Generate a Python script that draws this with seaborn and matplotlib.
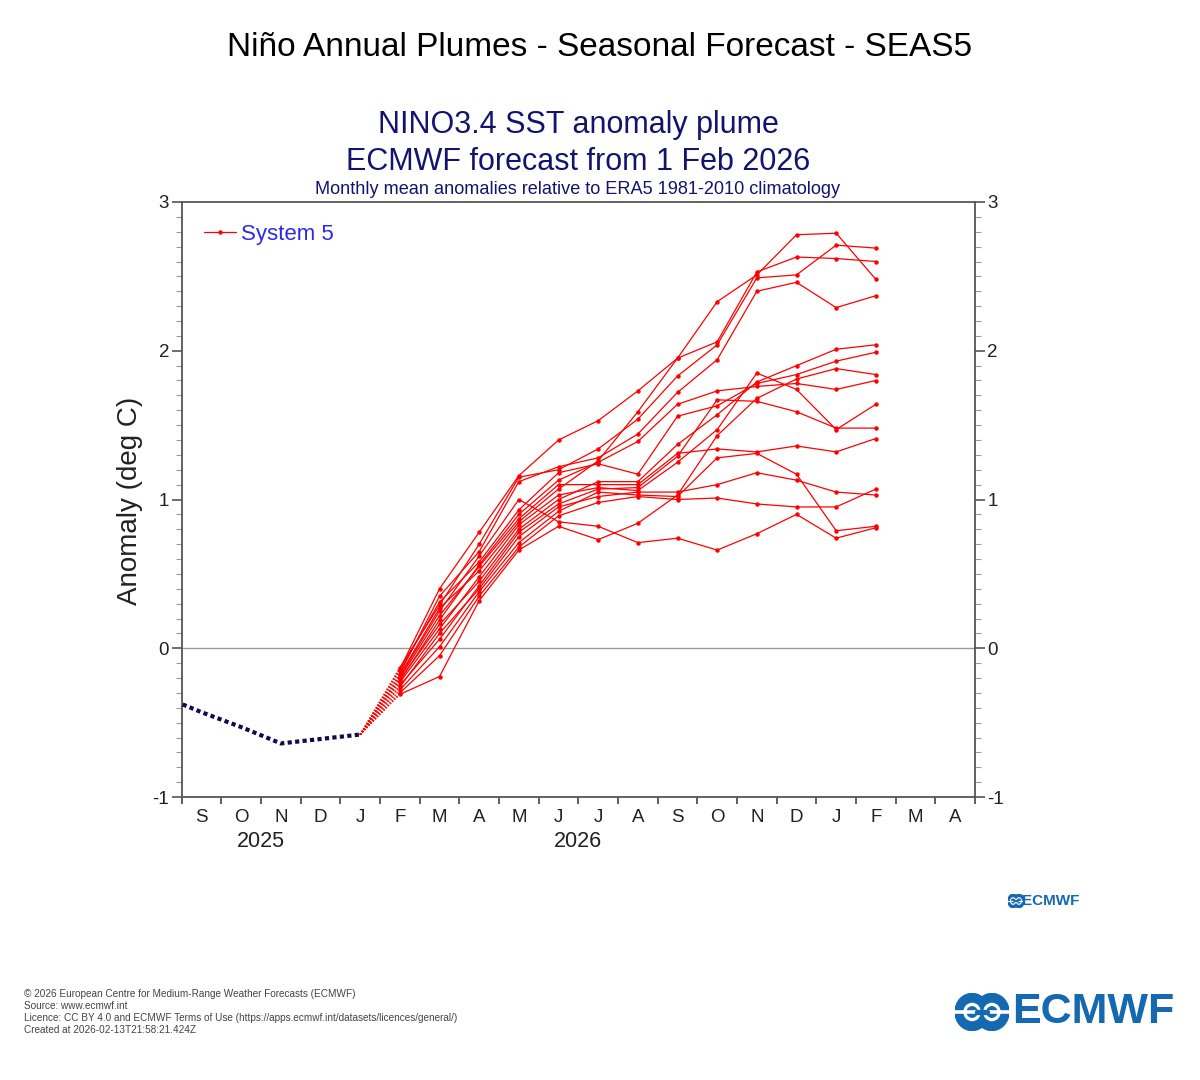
import pandas as pd
import matplotlib
matplotlib.use("Agg")
import matplotlib.pyplot as plt
from matplotlib.lines import Line2D
from matplotlib.patches import Ellipse
from matplotlib.ticker import FixedLocator, MultipleLocator
import seaborn as sns

# month axis: Sep 2025 .. Apr 2027
axis_start = "2025-09"
month_letters = ["S", "O", "N", "D", "J", "F", "M", "A", "M", "J",
                 "J", "A", "S", "O", "N", "D", "J", "F", "M", "A"]
year_labels = ["2025", "2026"]
year_label_months = ["2025-11", "2026-07"]

# observed Nino3.4 anomalies (ERA5)
obs_months = ["2025-08", "2025-09", "2025-10", "2025-11", "2025-12", "2026-01"]
obs_values = [-0.32, -0.43, -0.53, -0.64, -0.61, -0.58]

# SEAS5 ensemble members, Feb 2026 .. Feb 2027
fc_months = ["2026-02", "2026-03", "2026-04", "2026-05", "2026-06", "2026-07", "2026-08",
             "2026-09", "2026-10", "2026-11", "2026-12", "2027-01", "2027-02"]
m01 = [-0.18, 0.27, 0.52, 0.85, 1.07, 1.26, 1.59, 1.95, 2.33, 2.51, 2.78, 2.79, 2.48]
m02 = [-0.14, 0.40, 0.78, 1.16, 1.40, 1.53, 1.73, 1.95, 2.06, 2.53, 2.63, 2.62, 2.60]
m03 = [-0.13, 0.29, 0.70, 1.15, 1.20, 1.34, 1.54, 1.83, 2.04, 2.49, 2.51, 2.71, 2.69]
m04 = [-0.17, 0.35, 0.65, 1.12, 1.22, 1.28, 1.44, 1.72, 1.94, 2.40, 2.46, 2.29, 2.37]
m05 = [-0.21, 0.16, 0.45, 0.80, 1.00, 1.12, 1.12, 1.37, 1.57, 1.79, 1.90, 2.01, 2.04]
m06 = [-0.15, 0.31, 0.58, 0.93, 1.18, 1.24, 1.17, 1.56, 1.63, 1.78, 1.84, 1.93, 1.99]
m07 = [-0.31, -0.19, 0.32, 0.66, 0.82, 0.73, 0.84, 1.03, 1.43, 1.68, 1.81, 1.88, 1.84]
m08 = [-0.22, 0.19, 0.56, 0.90, 1.13, 1.25, 1.39, 1.64, 1.73, 1.76, 1.78, 1.74, 1.80]
m09 = [-0.23, 0.13, 0.48, 0.83, 1.03, 1.08, 1.06, 1.25, 1.47, 1.85, 1.74, 1.47, 1.64]
m10 = [-0.25, 0.06, 0.42, 0.78, 0.97, 1.07, 1.08, 1.29, 1.67, 1.66, 1.59, 1.48, 1.48]
m11 = [-0.20, 0.22, 0.55, 0.87, 1.10, 1.10, 1.10, 1.31, 1.34, 1.32, 1.36, 1.32, 1.41]
m12 = [-0.28, 0.01, 0.38, 0.71, 0.92, 1.05, 1.03, 1.02, 1.28, 1.31, 1.17, 0.79, 0.82]
m13 = [-0.26, 0.10, 0.40, 0.75, 0.95, 1.02, 1.05, 1.05, 1.10, 1.18, 1.13, 1.05, 1.03]
m14 = [-0.30, -0.05, 0.35, 0.68, 0.89, 0.98, 1.02, 1.00, 1.01, 0.97, 0.95, 0.95, 1.07]
m15 = [-0.19, 0.25, 0.62, 1.00, 0.85, 0.82, 0.71, 0.74, 0.66, 0.77, 0.90, 0.74, 0.81]
members = [m01, m02, m03, m04, m05, m06, m07, m08, m09, m10, m11, m12, m13, m14, m15]

footer = ["\u00a9 2026 European Centre for Medium-Range Weather Forecasts (ECMWF)",
          "Source: www.ecmwf.int",
          "Licence: CC BY 4.0 and ECMWF Terms of Use (https://apps.ecmwf.int/datasets/licences/general/)",
          "Created at 2026-02-13T21:58:21.424Z"]


def month_pos(m, mid=True):
    # months since start of axis, placed mid-month
    p = pd.Period(m, "M") - pd.Period(axis_start, "M")
    return p.n + (0.5 if mid else 0.0)


obs_x = [month_pos(m) for m in obs_months]
fc_x = [month_pos(m) for m in fc_months]

rows = []
for k, vals in enumerate(members):
    for x, v in zip(fc_x, vals):
        rows.append({"x": x, "anomaly": v, "member": k})
df = pd.DataFrame(rows)

sns.set_style("ticks")
plt.rcParams["font.family"] = ["Liberation Sans", "DejaVu Sans"]

W, H = 1200, 1080
fig = plt.figure(figsize=(W / 100, H / 100), dpi=100)
ax = fig.add_axes([181.7 / W, 1 - 797 / H, (975 - 181.7) / W, (797 - 202) / H])

navy = "#14146e"
ax.axhline(0, color="#9a9a9a", lw=1.0, zorder=1)

# observations
ax.plot(obs_x, obs_values, color="#0c0c4e", lw=3.0, linestyle=(0, (1, 0.8)), zorder=3)

# dotted links from last observation to first forecast month
for vals in members:
    ax.plot([obs_x[-1], fc_x[0]], [obs_values[-1], vals[0]], color="red",
            lw=1.0, linestyle=(0, (1, 1.2)), zorder=2)

sns.lineplot(data=df, x="x", y="anomaly", units="member", estimator=None,
             color="red", lw=0.9, marker="o", markersize=3.2, markeredgewidth=0,
             legend=False, ax=ax, zorder=4)

ax.set_xlim(0, len(month_letters))
ax.set_ylim(-1, 3)
ax.set_xlabel("")
ax.set_ylabel("")

ax.xaxis.set_major_locator(FixedLocator(range(len(month_letters) + 1)))
ax.xaxis.set_minor_locator(FixedLocator([i + 0.5 for i in range(len(month_letters))]))
ax.set_xticklabels([], minor=False)
ax.set_xticklabels(month_letters, minor=True)
ax.tick_params(axis="x", which="major", length=5, width=1.2, color="#444", direction="out")
ax.tick_params(axis="x", which="minor", length=0, pad=9, labelsize=13.5, labelcolor="#222")

ax.yaxis.set_major_locator(MultipleLocator(1))
ax.yaxis.set_minor_locator(MultipleLocator(0.1))
ax.set_yticklabels([f"{int(t)}" for t in ax.get_yticks()])
ax.tick_params(axis="y", which="both", left=True, right=True, labelleft=True, labelright=True,
               direction="out", labelsize=13.5, labelcolor="#222")
ax.tick_params(axis="y", which="major", length=7, width=1.2, pad=2, color="#555")
ax.tick_params(axis="y", which="minor", length=4, width=0.8, color="#999")

for s in ax.spines.values():
    s.set_color("#555")
    s.set_linewidth(1.3)

for lab, m in zip(year_labels, year_label_months):
    ax.text(month_pos(m, mid=False), -0.075, lab, transform=ax.get_xaxis_transform(),
            ha="center", va="center", fontsize=15.5, color="#222")

handle = Line2D([], [], color="red", lw=0.9, marker="o", markersize=3.2, markeredgewidth=0)
ax.legend([handle], ["System 5"], loc="upper left", bbox_to_anchor=(0.0, 1.0), frameon=False,
          fontsize=16, labelcolor="#2a2ae8", handlelength=1.45, handletextpad=0.2,
          borderaxespad=0.6)

# titles
fig.text(0.5, 1 - 47 / H, "Ni\u00f1o Annual Plumes - Seasonal Forecast - SEAS5",
         ha="center", va="center", fontsize=24, color="black")
fig.text(578 / W, 1 - 125 / H, "NINO3.4 SST anomaly plume", ha="center", va="center",
         fontsize=22, color=navy)
fig.text(578 / W, 1 - 162 / H, "ECMWF forecast from 1 Feb 2026", ha="center", va="center",
         fontsize=22, color=navy)
fig.text(578 / W, 1 - 189 / H, "Monthly mean anomalies relative to ERA5 1981-2010 climatology",
         ha="center", va="center", fontsize=13.1, color=navy)
fig.text(130 / W, 1 - 501 / H, "Anomaly (deg C)", rotation=90, ha="center", va="center",
         fontsize=20, color="#222")

for i, line in enumerate(footer):
    fig.text(24 / W, 1 - (994 + 12 * i) / H, line, ha="left", va="center",
             fontsize=7.2, color="#444")


def logo(x0, y0, w, h, text_x, size):
    # ECMWF mark: two blue rings with a white bar, then the word mark
    lax = fig.add_axes([x0 / W, 1 - (y0 + h) / H, w / W, h / H])
    lax.set_xlim(-1.5, 1.5)
    lax.set_ylim(-1, 1)
    lax.axis("off")
    blue = "#1469b0"
    lax.add_patch(Ellipse((-0.55, 0), 1.9, 1.95, color=blue))
    lax.add_patch(Ellipse((0.55, 0), 1.9, 1.95, color=blue))
    lax.add_patch(Ellipse((-0.55, 0), 0.9, 0.9, color="white"))
    lax.add_patch(Ellipse((0.55, 0), 0.9, 0.9, color="white"))
    lax.plot([-1.5, 1.5], [0, 0], color="white", lw=size / 12)
    lax.add_patch(Ellipse((-0.55, 0), 0.55, 0.55, color=blue))
    lax.add_patch(Ellipse((0.55, 0), 0.55, 0.55, color=blue))
    lax.plot([-0.3, 0.3], [0, 0], color=blue, lw=size / 8)
    fig.text(text_x / W, 1 - (y0 + h / 2) / H, "ECMWF", ha="left", va="center",
             fontsize=size, fontweight="bold", color=blue)


logo(1008, 894, 16, 14, 1022, 11)
logo(955, 993, 54, 38, 1012, 31)

fig.savefig("out.png", dpi=100)
